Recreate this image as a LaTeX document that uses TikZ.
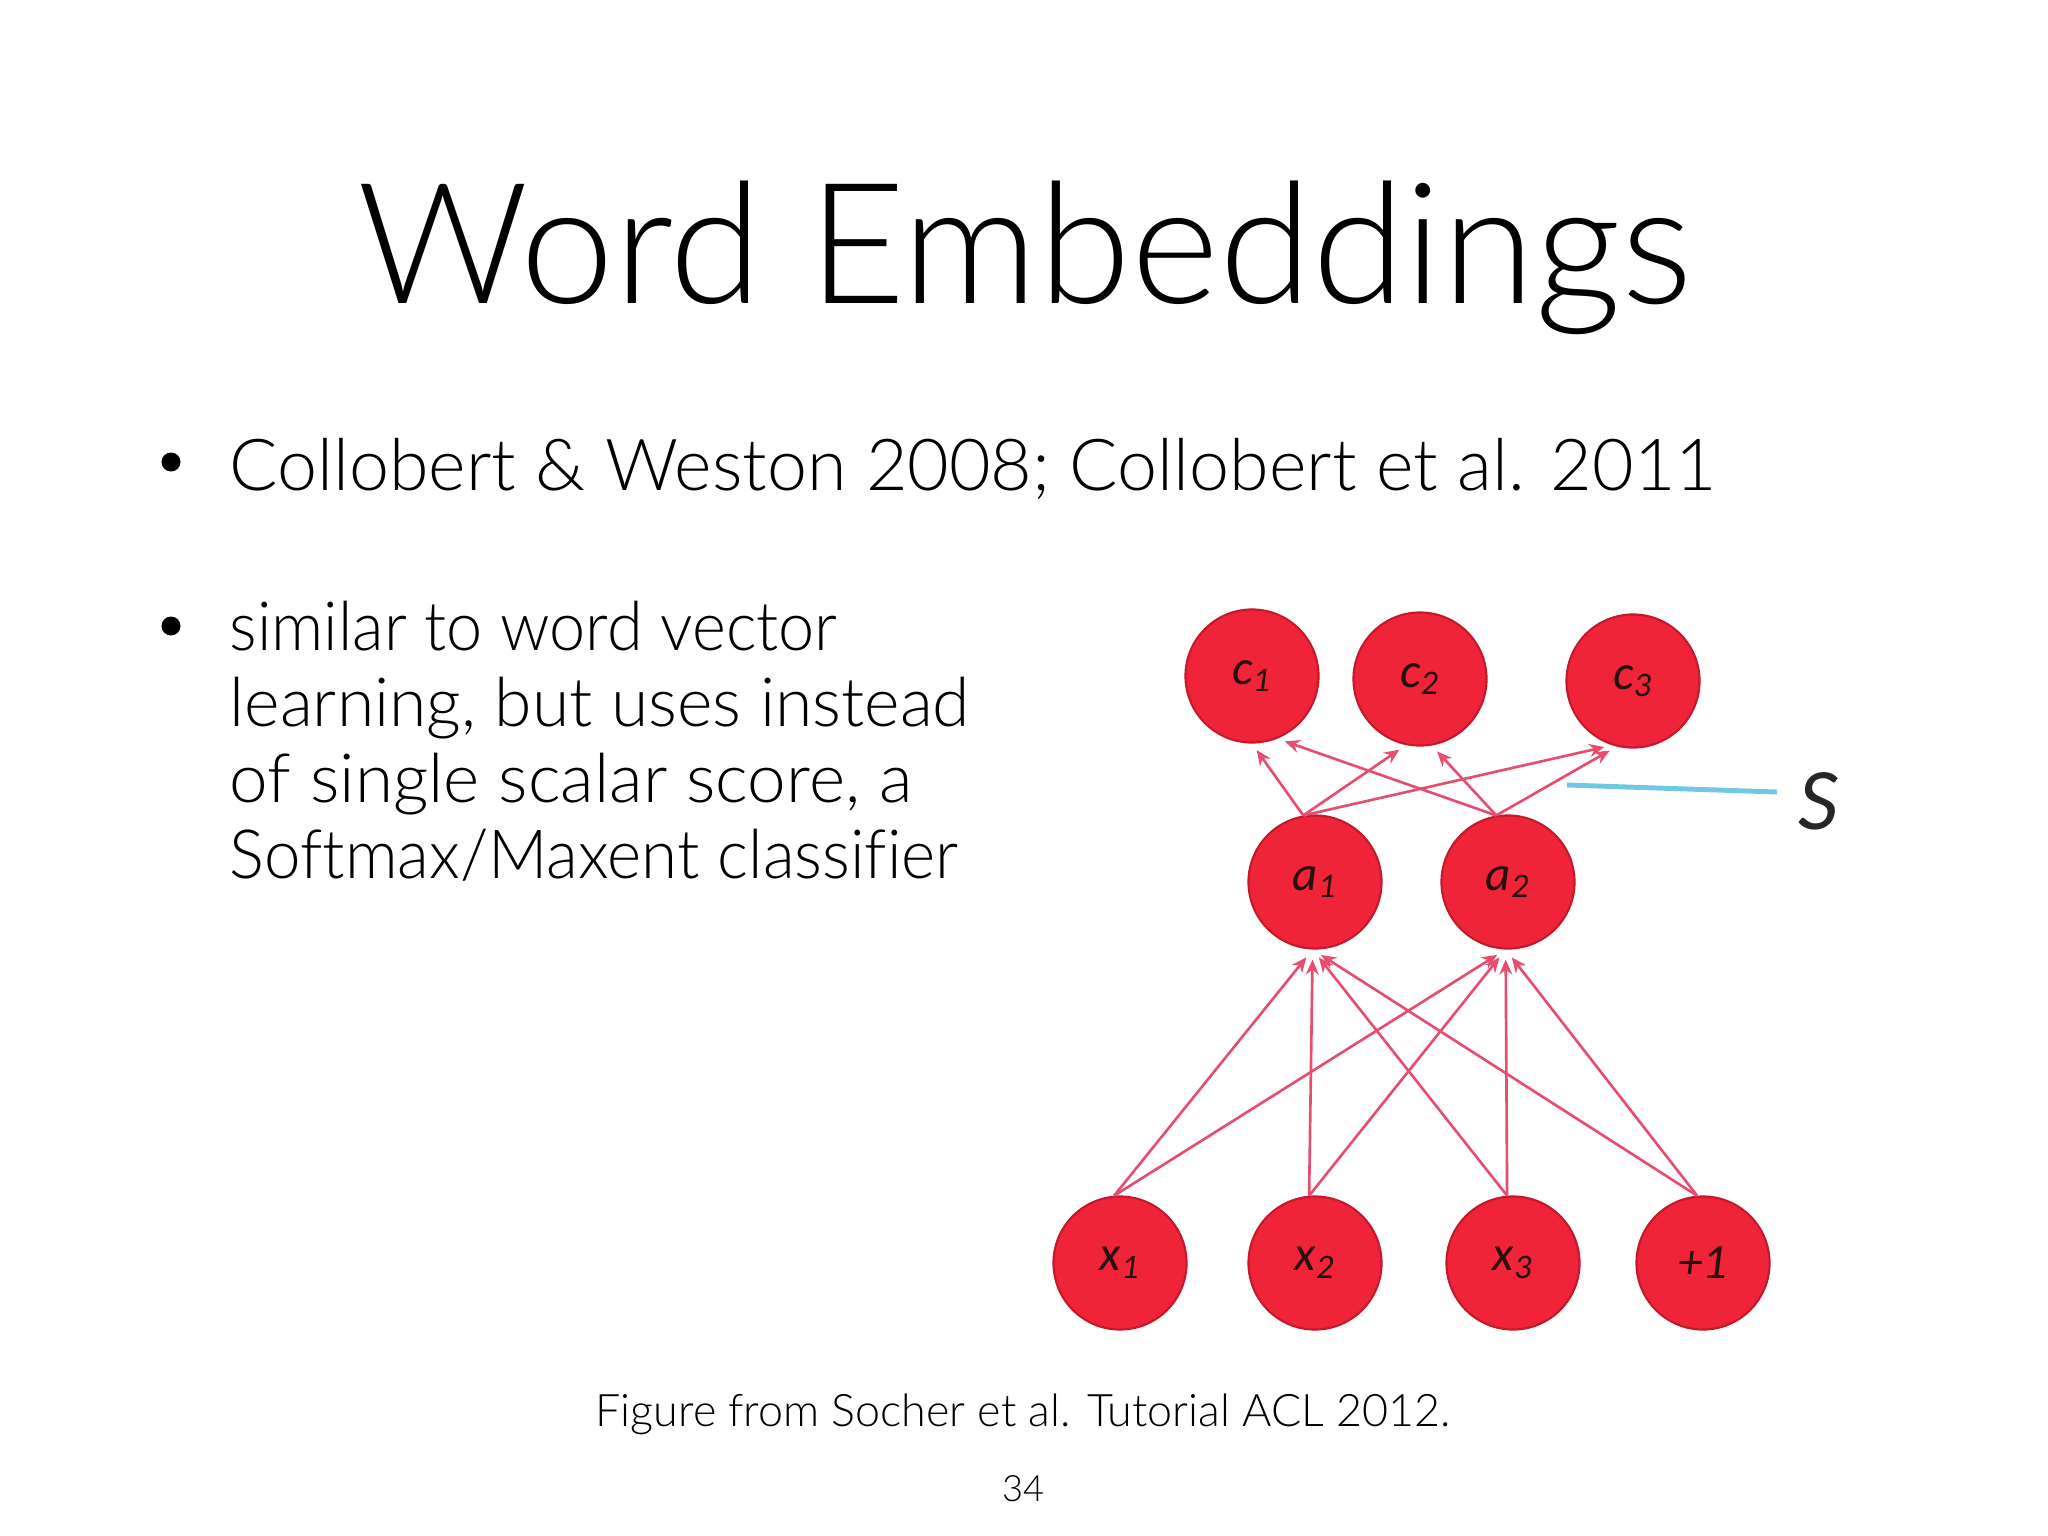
\documentclass[tikz,border=0pt]{standalone}
\usepackage{fontspec}
\IfFontExistsTF{Lato Light}{\setmainfont{Lato Light}[Ligatures=NoCommon]}{\setmainfont{Liberation Sans}}
\newfontfamily\lblfont{Carlito}
\usetikzlibrary{arrows.meta}
\definecolor{nodefill}{RGB}{240,36,56}
\definecolor{nodeborder}{RGB}{196,24,44}
\definecolor{edgecol}{RGB}{230,78,112}
\definecolor{scorecol}{RGB}{112,200,226}
\definecolor{lblcol}{RGB}{40,16,16}
\tikzset{
  neuron/.style={circle, fill=nodefill, draw=nodeborder, line width=0.6pt,
    minimum size=1.33cm, inner sep=0pt,
    font=\lblfont\itshape\fontsize{14}{14}\selectfont, text=lblcol},
  conn/.style={draw=edgecol, line width=0.75pt,
    -{Stealth[length=0.15cm,width=0.13cm]}, shorten >=0.08cm},
  score/.style={draw=scorecol, line width=1.4pt},
  txt/.style={inner sep=0pt, text=black},
  bulletdot/.style={circle, fill=black, inner sep=0pt, minimum size=0.19cm}
}
\newcommand{\lab}[2]{\raisebox{-0.1cm}{#1\textsubscript{#2}}}
\begin{document}
\begin{tikzpicture}[x=0.01cm, y=-0.01cm]
\useasboundingbox (0,0) rectangle (2048,1536);
\fill[white] (0,0) rectangle (2048,1536);

% title
\node[txt, anchor=base, font=\fontsize{47.9}{52}\selectfont] (title) at (1025,303) {Word Embeddings};

% bullets
\node[bulletdot] (b1) at (171,462) {};
\node[txt, anchor=base west, font=\fontsize{20.4}{24}\selectfont] (t1) at (229,490)
  {Collobert \& Weston 2008; Collobert et al. 2011};
\node[bulletdot] (b2) at (171,626) {};
\node[txt, anchor=base west, font=\fontsize{19.3}{22}\selectfont] (t2a) at (229,650) {\scalebox{0.955}[1]{similar to word vector}};
\node[txt, anchor=base west, font=\fontsize{19.3}{22}\selectfont] (t2b) at (229,726) {learning, but uses instead};
\node[txt, anchor=base west, font=\fontsize{19.3}{22}\selectfont] (t2c) at (229,802) {\scalebox{1.02}[1]{of single scalar score, a}};
\node[txt, anchor=base west, font=\fontsize{19.3}{22}\selectfont] (t2d) at (229,878) {\scalebox{0.964}[1]{Softmax/Maxent classifier}};

% caption and page number
\node[txt, anchor=base, font=\fontsize{12.75}{14}\selectfont] (cap) at (1023,1426) {Figure from Socher et al. Tutorial ACL 2012.};
\node[txt, anchor=base, font=\fontsize{10.3}{12}\selectfont] (pg) at (1023,1501) {34};

% network
\node[neuron] (c1) at (1252,676) {\lab{c}{1}};
\node[neuron] (c2) at (1420,679) {\lab{c}{2}};
\node[neuron] (c3) at (1633,681) {\lab{c}{3}};
\node[neuron] (a1) at (1315,882) {\lab{a}{1}};
\node[neuron] (a2) at (1508,882) {\lab{a}{2}};
\node[neuron] (x1) at (1120,1263) {\lab{x}{1}};
\node[neuron] (x2) at (1315,1263) {\lab{x}{2}};
\node[neuron] (x3) at (1513,1263) {\lab{x}{3}};
\node[neuron] (xb) at (1703,1263) {\raisebox{-0.05cm}{+1}};

% hidden -> output
\draw[conn] (a1.100) -- (c1.270);
\draw[conn] (a2.100) -- (c1.292);
\draw[conn] (a1.100) -- (c2.258);
\draw[conn] (a2.100) -- (c2.280);
\draw[conn] (a1.100) -- (c3.252);
\draw[conn] (a2.100) -- (c3.256);

% input -> hidden
\foreach \i in {x1,x2,x3,xb}{
  \draw[conn, shorten >=0.1cm] (\i.95) -- (a1.268);
  \draw[conn, shorten >=0.1cm] (\i.95) -- (a2.268);
}

% score line
\coordinate (sa) at (1567,785);
\coordinate (sb) at (1777,792);
\draw[score] (sa) -- (sb);
\node[txt, font=\lblfont\itshape\fontsize{25}{25}\selectfont, text=black!85] (S) at (1818,801) {S};
\end{tikzpicture}
\end{document}
